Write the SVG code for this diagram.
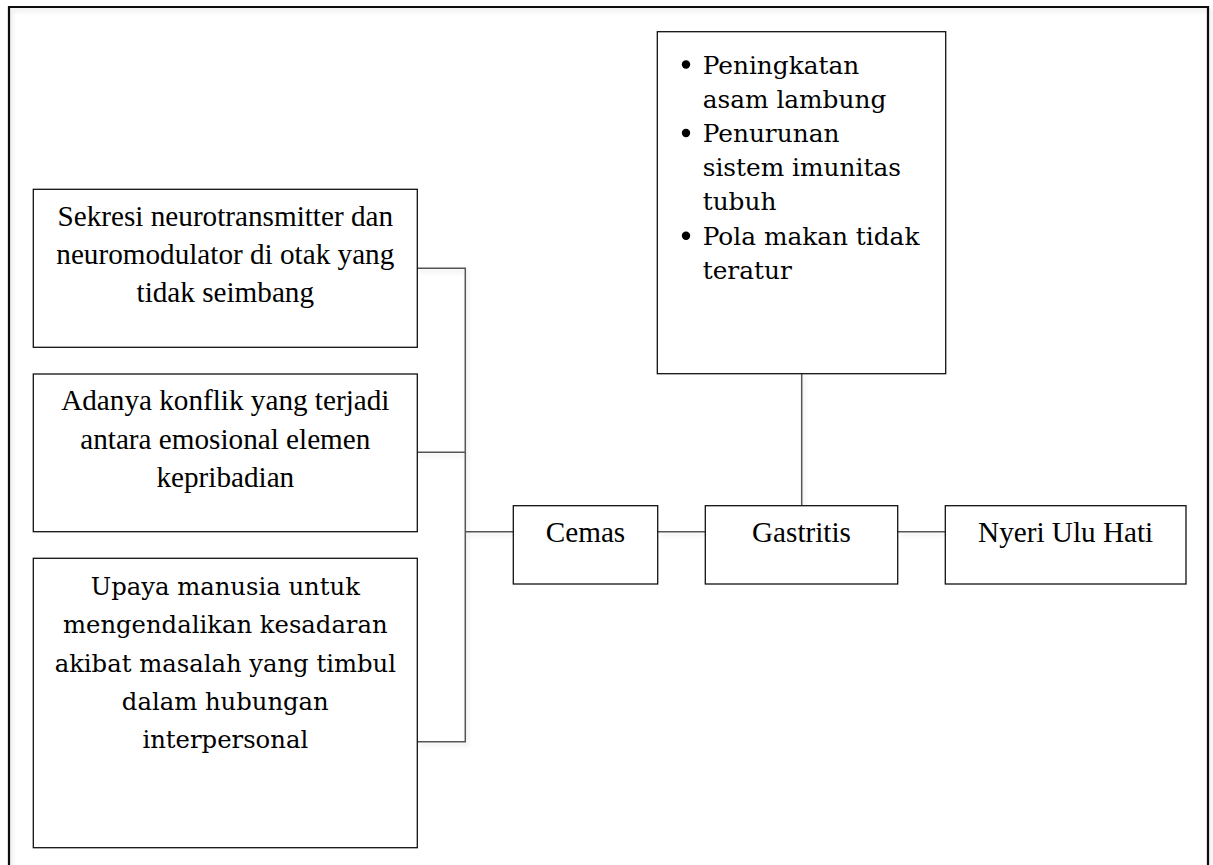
<svg xmlns="http://www.w3.org/2000/svg" width="1213" height="865" viewBox="0 0 1213 865">
  <defs>
    <filter id="sh" x="-5%" y="-5%" width="110%" height="115%">
      <feDropShadow dx="2" dy="3" stdDeviation="2" flood-color="#000" flood-opacity="0.12"/>
    </filter>
  </defs>
  <style>
    .box { fill: #fff; stroke: #111; stroke-width: 1.3; }
    .conn { fill: none; stroke: #555; stroke-width: 1.5; }
    .tn { font-family: "Liberation Serif", "Times New Roman", serif; font-size: 29.2px; fill: #000; text-anchor: middle; }
    .cb { font-family: "DejaVu Serif", "Liberation Serif", serif; font-size: 24.3px; fill: #000; }
    .cb2 { font-family: "DejaVu Serif", "Liberation Serif", serif; font-size: 24.8px; fill: #000; }
    .mid { text-anchor: middle; }
  </style>
  <rect width="1213" height="865" fill="#fff"/>
  <path d="M9,900 L9,7 L1208,7 L1208,900" fill="none" stroke="#111" stroke-width="2.2" filter="url(#sh)"/>

  <g id="connectors" filter="url(#sh)">
    <path class="conn" d="M417.3,268.3 H465.3 V741.7 H417.3"/>
    <path class="conn" d="M417.3,452.3 H465.3"/>
    <path class="conn" d="M465.3,531.7 H513.3"/>
    <path class="conn" d="M657.7,531.7 H705.3"/>
    <path class="conn" d="M897.7,531.7 H945.3"/>
    <path class="conn" d="M801.7,373.7 V505.7"/>
  </g>

  <g id="node-sekresi">
    <rect class="box" x="33.3" y="189.3" width="384" height="158"/>
    <text class="tn" x="225.3" y="225.7">Sekresi neurotransmitter dan</text>
    <text class="tn" x="225.3" y="264">neuromodulator di otak yang</text>
    <text class="tn" x="225.3" y="302.2">tidak seimbang</text>
  </g>

  <g id="node-konflik">
    <rect class="box" x="33.3" y="374" width="384" height="157.7"/>
    <text class="tn" x="225.3" y="410.4">Adanya konflik yang terjadi</text>
    <text class="tn" x="225.3" y="448.7">antara emosional elemen</text>
    <text class="tn" x="225.3" y="487">kepribadian</text>
  </g>

  <g id="node-upaya">
    <rect class="box" x="33.3" y="558.3" width="384" height="289.4"/>
    <text class="cb mid" x="225.3" y="595">Upaya manusia untuk</text>
    <text class="cb mid" x="225.3" y="633.3">mengendalikan kesadaran</text>
    <text class="cb mid" x="225.3" y="671.6">akibat masalah yang timbul</text>
    <text class="cb mid" x="225.3" y="709.9">dalam hubungan</text>
    <text class="cb mid" x="225.3" y="748.2">interpersonal</text>
  </g>

  <g id="node-cemas">
    <rect class="box" x="513.3" y="505.7" width="144.4" height="78.3"/>
    <text class="tn" x="585.5" y="542.3">Cemas</text>
  </g>

  <g id="node-gastritis">
    <rect class="box" x="705.3" y="505.7" width="192.4" height="78.3"/>
    <text class="tn" x="801.5" y="542">Gastritis</text>
  </g>

  <g id="node-nyeri">
    <rect class="box" x="945.3" y="505.7" width="240.7" height="78.3"/>
    <text class="tn" x="1065.6" y="542">Nyeri Ulu Hati</text>
  </g>

  <g id="node-faktor">
    <rect class="box" x="657.3" y="31.7" width="288.4" height="342"/>
    <circle cx="686" cy="64.5" r="4.2" fill="#000"/>
    <circle cx="686" cy="133" r="4.2" fill="#000"/>
    <circle cx="686" cy="235.7" r="4.2" fill="#000"/>
    <text class="cb2" x="702.7" y="73.5">Peningkatan</text>
    <text class="cb2" x="702.7" y="107.7">asam lambung</text>
    <text class="cb2" x="702.7" y="141.9">Penurunan</text>
    <text class="cb2" x="702.7" y="176.1">sistem imunitas</text>
    <text class="cb2" x="702.7" y="210.3">tubuh</text>
    <text class="cb2" x="702.7" y="244.5">Pola makan tidak</text>
    <text class="cb2" x="702.7" y="278.7">teratur</text>
  </g>
</svg>
